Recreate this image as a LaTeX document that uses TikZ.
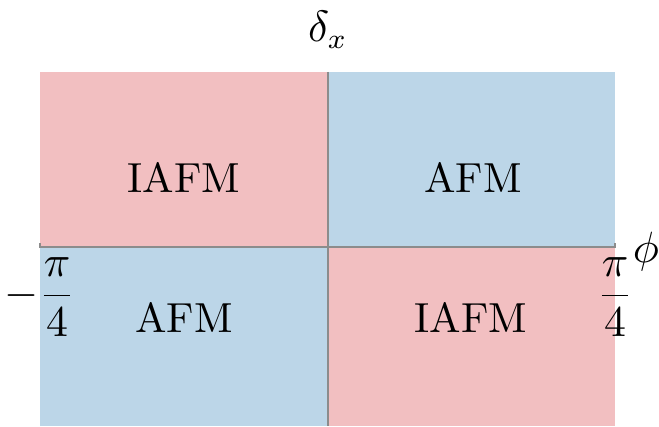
\documentclass[tikz,border=0pt]{standalone}
\begin{document}
\begin{tikzpicture}[x=0.25pt,y=-0.25pt,
  lbl/.style={font=\fontsize{10.5}{12}\selectfont, inner sep=0pt},
  axisline/.style={draw=black!45, line width=0.4pt}]
\definecolor{pinkc}{RGB}{242,191,193}
\definecolor{bluec}{RGB}{188,214,232}
\useasboundingbox (0,0) rectangle (659,426);
\fill[pinkc] (40,72) rectangle (328,247);
\fill[bluec] (328,72) rectangle (615,247);
\fill[bluec] (40,247) rectangle (328,426);
\fill[pinkc] (328,247) rectangle (615,426);
\coordinate (L) at (40,247);
\coordinate (R) at (615,247);
\coordinate (T) at (328,72);
\coordinate (B) at (328,426);
\draw[axisline] (T) -- (B);
\draw[axisline] ([yshift=1pt]L) -- (L) -- (R) -- ([yshift=1pt]R);
\node[lbl] (ul) at (184,177) {IAFM};
\node[lbl] (ur) at (473,177) {AFM};
\node[lbl] (ll) at (184,317) {AFM};
\node[lbl] (lr) at (471,317) {IAFM};
\node[lbl] (dx) at (328,30) {$\delta_x$};
\node[lbl] (ph) at (646,252) {$\phi$};
\node[lbl, anchor=north] (mlab) at ([yshift=-2.5pt]L) {$\displaystyle-\frac{\pi}{4}$};
\node[lbl, anchor=north] (plab) at ([yshift=-2.5pt]R) {$\displaystyle\frac{\pi}{4}$};
\end{tikzpicture}
\end{document}
